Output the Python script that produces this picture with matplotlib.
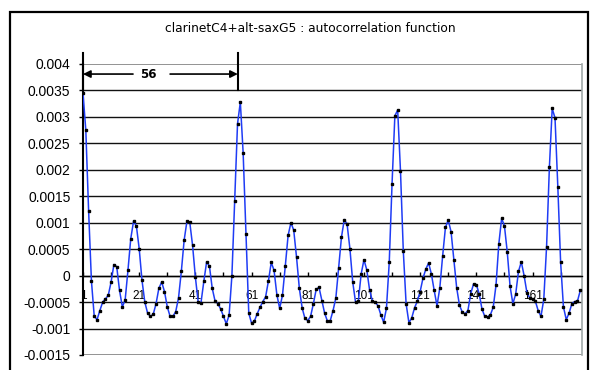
import matplotlib
matplotlib.use("Agg")
import matplotlib.pyplot as plt
from matplotlib.patches import Rectangle

# ---- data ----
title = "clarinetC4+alt-saxG5 : autocorrelation function"
acf = [
    0.00345, 0.00275, 0.00122, -0.00010, -0.00077, -0.00083, -0.00066, -0.00050, -0.00044, -0.00037,
    -0.00012, 0.00021, 0.00017, -0.00028, -0.00059, -0.00046, 0.00010, 0.00070, 0.00103, 0.00094,
    0.00051, -0.00009, -0.00050, -0.00071, -0.00077, -0.00073, -0.00053, -0.00024, -0.00012, -0.00030,
    -0.00059, -0.00077, -0.00077, -0.00068, -0.00042, 0.00008, 0.00067, 0.00103, 0.00101, 0.00057,
    -0.00003, -0.00050, -0.00051, -0.00011, 0.00026, 0.00018, -0.00024, -0.00048, -0.00053, -0.00063,
    -0.00077, -0.00091, -0.00075, 0.00000, 0.00141, 0.00287, 0.00328, 0.00232, 0.00078, -0.00071,
    -0.00090, -0.00086, -0.00072, -0.00060, -0.00049, -0.00040, -0.00010, 0.00025, 0.00010, -0.00036,
    -0.00062, -0.00037, 0.00018, 0.00076, 0.00100, 0.00086, 0.00035, -0.00024, -0.00061, -0.00081,
    -0.00085, -0.00077, -0.00053, -0.00026, -0.00022, -0.00047, -0.00071, -0.00086, -0.00085, -0.00066,
    -0.00042, 0.00015, 0.00073, 0.00106, 0.00097, 0.00051, -0.00012, -0.00050, -0.00048, 0.00003,
    0.00030, 0.00011, -0.00027, -0.00048, -0.00050, -0.00057, -0.00074, -0.00088, -0.00062, 0.00025,
    0.00174, 0.00302, 0.00313, 0.00198, 0.00047, -0.00053, -0.00089, -0.00080, -0.00061, -0.00048,
    -0.00030, -0.00005, 0.00012, 0.00024, 0.00003, -0.00028, -0.00057, -0.00023, 0.00037, 0.00091,
    0.00105, 0.00083, 0.00030, -0.00023, -0.00056, -0.00069, -0.00072, -0.00066, -0.00034, -0.00016,
    -0.00017, -0.00034, -0.00063, -0.00077, -0.00078, -0.00074, -0.00060, -0.00018, 0.00060, 0.00108,
    0.00094, 0.00045, -0.00020, -0.00053, -0.00035, 0.00008, 0.00026, 0.00000, -0.00032, -0.00042,
    -0.00044, -0.00048, -0.00066, -0.00077, -0.00045, 0.00055, 0.00205, 0.00316, 0.00298, 0.00168,
    0.00025, -0.00059, -0.00083, -0.00071, -0.00053, -0.00049, -0.00048, -0.00028,
]
categories = list(range(1, len(acf) + 1))
period_label = "56"
period_start = 1
period_end = 56.1
ytick_values = [0.004, 0.0035, 0.003, 0.0025, 0.002, 0.0015, 0.001, 0.0005, 0,
                -0.0005, -0.001, -0.0015]
ytick_labels = ["0.004", "0.0035", "0.003", "0.0025", "0.002", "0.0015", "0.001",
                "0.0005", "0", "-0.0005", "-0.001", "-0.0015"]
xtick_values = list(range(1, 179, 10))
xtick_labels = [str(c) if (c - 1) % 20 == 0 else "" for c in xtick_values]

# ---- figure ----
W, H = 597, 370
fig = plt.figure(figsize=(W / 100, H / 100), dpi=100)
ax = fig.add_axes([83 / W, 1 - 355 / H, (581.7 - 83) / W, (355 - 64) / H])

ymin, ymax = -0.0015, 0.004
ax.set_ylim(ymin, ymax)
ax.set_xlim(1, 178.5)

# gridlines
for v in ytick_values:
    if v in (ymin, ymax):
        ax.axhline(v, color="#808080", lw=1.2, zorder=1)
    else:
        ax.axhline(v, color="#111111", lw=1.0, zorder=1)

ax.plot(categories, acf, color="#1f3cf5", lw=1.1, marker="s", ms=1.7,
        mfc="black", mec="black", zorder=3)

# spines
ax.spines["left"].set_linewidth(1.5)
ax.spines["left"].set_color("black")
ax.spines["right"].set_color("#a0a8a8")
ax.spines["right"].set_linewidth(1.2)
ax.spines["top"].set_visible(False)
ax.spines["bottom"].set_position(("data", 0))
ax.spines["bottom"].set_color("black")
ax.spines["bottom"].set_linewidth(1.0)

ax.set_yticks(ytick_values)
ax.set_yticklabels(ytick_labels, fontfamily="Liberation Sans", fontsize=10)
ax.tick_params(axis="y", direction="out", length=3, width=1, pad=6)

ax.set_xticks(xtick_values)
ax.set_xticklabels(xtick_labels, fontfamily="Liberation Sans", fontsize=8.5)
ax.tick_params(axis="x", direction="in", length=3, width=1, pad=10)

# period annotation
top_y = 0.00421
arrow_y = 0.00381
ax.plot([period_start, period_start], [0.0035, top_y], color="black", lw=1.5,
        clip_on=False, zorder=5)
ax.plot([period_end, period_end], [0.0035, top_y], color="black", lw=1.5,
        clip_on=False, zorder=5)
mid = 24.1
ax.annotate("", xy=(period_start, arrow_y), xytext=(18.8, arrow_y),
            arrowprops=dict(arrowstyle="-|>", color="black", lw=1.2,
                            mutation_scale=11, shrinkA=0, shrinkB=0))
ax.annotate("", xy=(period_end, arrow_y), xytext=(32, arrow_y),
            arrowprops=dict(arrowstyle="-|>", color="black", lw=1.2,
                            mutation_scale=11, shrinkA=0, shrinkB=0))
ax.text(mid, arrow_y, period_label, ha="center", va="center",
        fontweight="bold", fontsize=8.5, family="DejaVu Sans")

# title
fig.text(310.7 / W, 1 - 28 / H, title, ha="center", va="center",
         fontsize=8.8, family="DejaVu Sans")

# outer frame
fig.patches.append(Rectangle((10 / W, -0.02), (588 - 10) / W, 1 - 12 / H + 0.02,
                             transform=fig.transFigure, fill=False,
                             edgecolor="black", lw=1.6))

fig.savefig("out.png", dpi=100)
